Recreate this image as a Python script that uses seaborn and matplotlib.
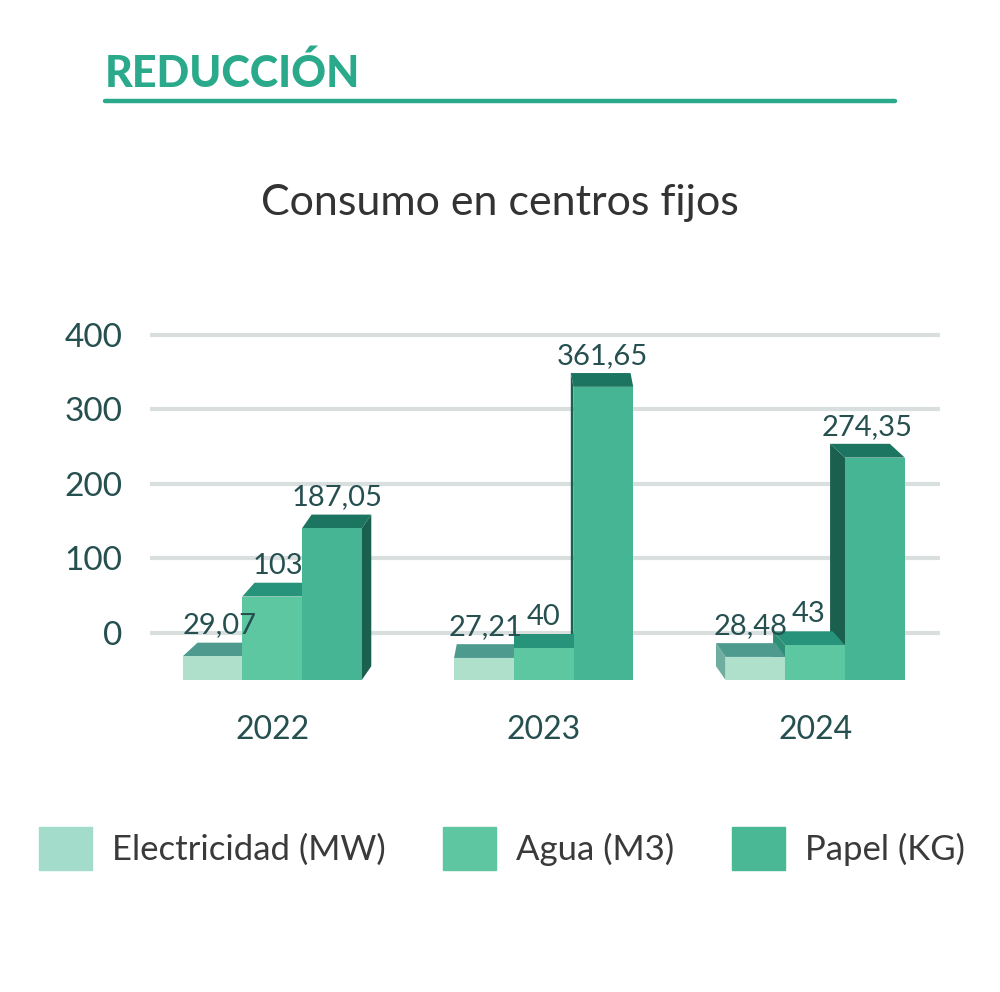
import seaborn as sns
import matplotlib.pyplot as plt
from matplotlib.patches import Polygon
import pandas as pd

# data
years = ['2022', '2023', '2024']
series = ['Electricidad (MW)', 'Agua (M3)', 'Papel (KG)']
electricidad = [29.07, 27.21, 28.48]
agua = [103, 40, 43]
papel = [187.05, 361.65, 274.35]
etiquetas = [['29,07', '27,21', '28,48'], ['103', '40', '43'], ['187,05', '361,65', '274,35']]
yticks = [0, 100, 200, 300, 400]

front = ['#afe0cc', '#5cc7a0', '#46b593']
tops = ['#4f9a8f', '#26937a', '#1c7561']
sides = ['#6fae9f', '#2f8f76', '#1b5f4f']
legend_col = ['#a3dccb', '#5fc6a2', '#4ab795']
verde = '#2aaa8a'
txt = '#264f50'

df = pd.DataFrame({
    'year': years * 3,
    'serie': [s for s in series for _ in years],
    'valor': electricidad + agua + papel,
})

sns.set_theme(style="white")
plt.rcParams['font.family'] = ['Lato', 'DejaVu Sans']

fig = plt.figure(figsize=(10, 9.92), dpi=100)
rect = [0.15, 0.3145, 0.79, 0.3931]

# back wall: grid lines + y labels
axg = fig.add_axes(rect)
axg.set_ylim(-63, 460)
axg.set_xlim(0, 1)
axg.set_yticks(yticks)
axg.set_yticklabels([str(t) for t in yticks], fontsize=24, color=txt)
axg.tick_params(axis='y', length=0, pad=20)
axg.set_xticks([])
for t in yticks:
    axg.axhline(t, color='#d9dfdf', lw=3, zorder=0)
for s in axg.spines.values():
    s.set_visible(False)
axg.patch.set_alpha(0)

# bars
ax = fig.add_axes(rect)
ax.patch.set_alpha(0)
sns.barplot(data=df, x='year', y='valor', hue='serie', palette=front,
            width=0.66, gap=0, legend=False, ax=ax, saturation=1, linewidth=0)
ax.set_ylim(0, 481)
ax.set_xlim(-0.45, 2.46)
ax.set_yticks([])
ax.set_xlabel('')
ax.set_ylabel('')
ax.tick_params(axis='x', length=0, pad=25, labelsize=23, labelcolor=txt)
for s in ax.spines.values():
    s.set_visible(False)

# fake 3D: top and side faces derived from each bar
depth = 17
for i, cont in enumerate(ax.containers):
    for j, bar in enumerate(cont):
        bar.set_zorder(2)
        x0 = bar.get_x()
        w = bar.get_width()
        h = bar.get_height()
        dx = (1.0 - (x0 + w / 2)) * 0.045
        top = Polygon([(x0, h), (x0 + w, h), (x0 + w + dx, h + depth), (x0 + dx, h + depth)],
                      closed=True, facecolor=tops[i], edgecolor='none', zorder=1.5)
        ax.add_patch(top)
        xe = x0 + w if dx > 0 else x0
        side = Polygon([(xe, 0), (xe, h), (xe + dx, h + depth), (xe + dx, depth)],
                       closed=True, facecolor=sides[i], edgecolor='none', zorder=1)
        ax.add_patch(side)
        ax.annotate(etiquetas[i][j], (x0 + w / 2 + dx / 2, h + depth), xytext=(0, 3),
                    textcoords='offset points', ha='center', va='bottom',
                    fontsize=21, color=txt, zorder=5)

# header
fig.text(0.105, 0.926, 'REDUCCIÓN', fontsize=31, fontweight='black', color=verde,
         ha='left', va='center')
fig.add_artist(plt.Line2D([0.105, 0.895], [0.898, 0.898], color=verde, lw=3.2))
fig.text(0.5, 0.795, 'Consumo en centros fijos', fontsize=31, color='#333333',
         ha='center', va='center')

# legend
handles = [plt.Rectangle((0, 0), 1, 1, color=c) for c in legend_col]
fig.legend(handles, series, loc='center', bbox_to_anchor=(0.502, 0.145), ncol=3,
           frameon=False, fontsize=25, handlelength=1.53, handleheight=1.53,
           handletextpad=0.58, columnspacing=1.65, labelcolor='#3a3a3a')

plt.savefig('out.png', dpi=100)
